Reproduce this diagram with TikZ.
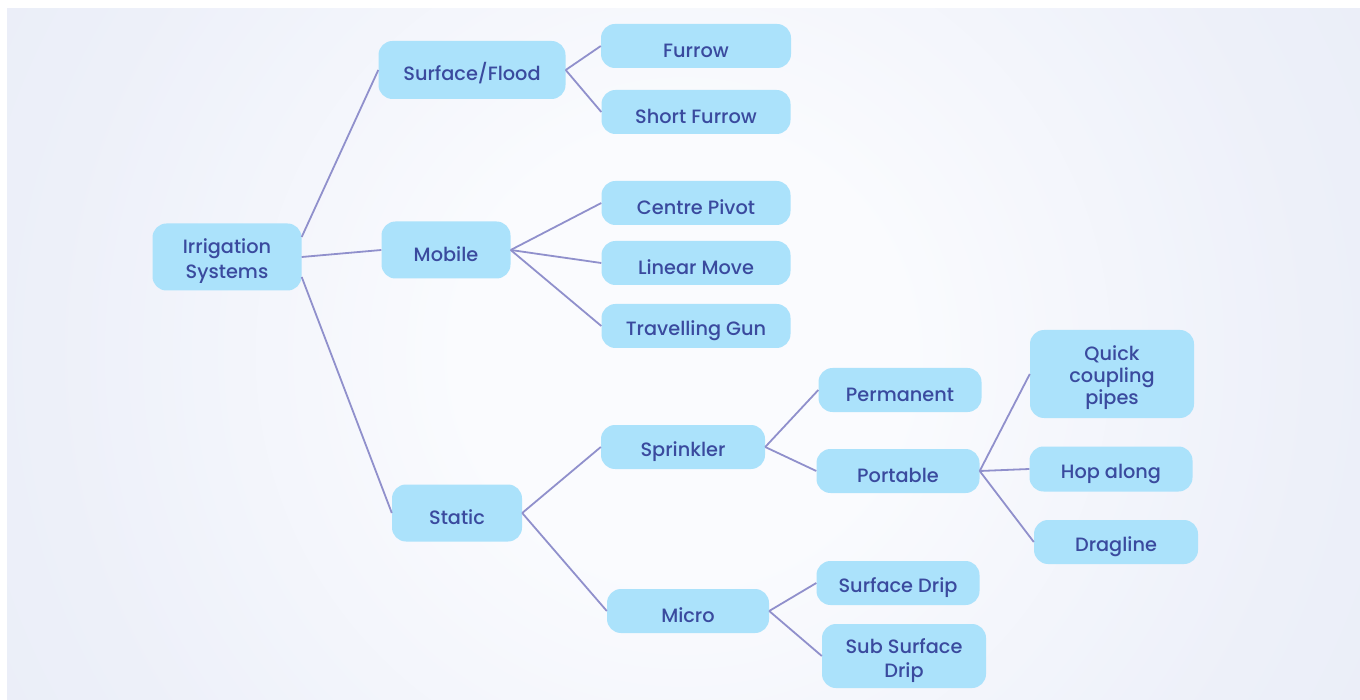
\documentclass[tikz,border=0pt]{standalone}
\usepackage{fontspec}
\setmainfont{Poppins}[UprightFont=* Medium]
\usepackage{tikz}
\definecolor{boxfill}{HTML}{ABE2FB}
\definecolor{boxtext}{HTML}{3A4A9E}
\definecolor{linkcol}{HTML}{9090CC}
\definecolor{bgedge}{HTML}{E1E7F5}
\definecolor{bghalf}{HTML}{EDF0F9}
\definecolor{bgmid}{HTML}{FAFBFE}
\pgfdeclareradialshading{bgglow}{\pgfpoint{0bp}{0bp}}{color(0bp)=(bgmid); color(8bp)=(bgmid); color(23bp)=(bghalf); color(46bp)=(bgedge); color(100bp)=(bgedge)}

\begin{document}
\begin{tikzpicture}[x=1pt,y=-1pt,
		box/.style={rectangle, rounded corners=14pt, fill=boxfill, text=boxtext, align=center, inner sep=2pt, minimum width=163pt, minimum height=44pt, font=\fontsize{19.3}{23.5}\selectfont, execute at begin node={\rule{0pt}{24pt}}},
		link/.style={draw=linkcol, line width=1.8pt}]
		\useasboundingbox (0,0) rectangle (1360,700);
		\fill[white] (0,0) rectangle (1360,700);
		\begin{scope}
			\clip (7,9) rectangle (1360,700);
			\shade[shading=bgglow] (-7,-336) rectangle (1373,1044);
		\end{scope}
		
		\node[box, minimum width=149pt, minimum height=67pt, font=\fontsize{19.3}{25}\selectfont] (irr) at (227,257) {\raisebox{0pt}[24pt]{Irrigation}\\Systems};
		\node[box, minimum width=187pt, minimum height=58pt] (surf) at (472,70) {Surface/Flood};
		\node[box, minimum width=129pt, minimum height=57pt] (mob) at (446,250) {Mobile};
		\node[box, minimum width=130pt, minimum height=57pt] (stat) at (457,513) {Static};
		
		\node[box, minimum width=190pt] (fur) at (696,46) {Furrow};
		\node[box, minimum width=189pt] (sfur) at (696,112) {Short Furrow};
		\node[box, minimum width=189pt] (cp) at (696,203) {Centre Pivot};
		\node[box, minimum width=189pt] (lin) at (696,263) {Linear Move};
		\node[box, minimum width=189pt] (gun) at (696,326) {Travelling Gun};
		\node[box, minimum width=164pt] (spr) at (683,447) {Sprinkler};
		\node[box, minimum width=162pt] (mic) at (688,611) {Micro};
		
		\node[box] (perm) at (900,390) {Permanent};
		\node[box] (port) at (898,471) {Portable};
		\node[box] (sdrip) at (898,583) {Surface Drip};
		\node[box, minimum width=164pt, minimum height=64pt] (subd) at (904,656) {\raisebox{0pt}[24pt]{Sub Surface}\\Drip};
		
		\node[box, minimum width=164pt, minimum height=88pt, font=\fontsize{19.3}{22}\selectfont] (quick) at (1112,374) {\raisebox{0pt}[22pt]{Quick}\\coupling\\pipes};
		\node[box, minimum height=45pt] (hop) at (1111,469) {Hop along};
		\node[box, minimum width=164pt] (drag) at (1116,542) {Dragline};
		
		\draw[link] ([yshift=20pt]irr.east) -- (surf.west);
		\draw[link] (irr.east) -- (mob.west);
		\draw[link] ([yshift=-20pt]irr.east) -- (stat.west);
		\draw[link] (surf.east) -- (fur.west);
		\draw[link] (surf.east) -- (sfur.west);
		\draw[link] (mob.east) -- (cp.west);
		\draw[link] (mob.east) -- (lin.west);
		\draw[link] (mob.east) -- (gun.west);
		\draw[link] (stat.east) -- (spr.west);
		\draw[link] (stat.east) -- (mic.west);
		\draw[link] (spr.east) -- (perm.west);
		\draw[link] (spr.east) -- (port.west);
		\draw[link] (port.east) -- (quick.west);
		\draw[link] (port.east) -- (hop.west);
		\draw[link] (port.east) -- (drag.west);
		\draw[link] (mic.east) -- (sdrip.west);
		\draw[link] (mic.east) -- (subd.west);
		
		\end{tikzpicture}
\end{document}
